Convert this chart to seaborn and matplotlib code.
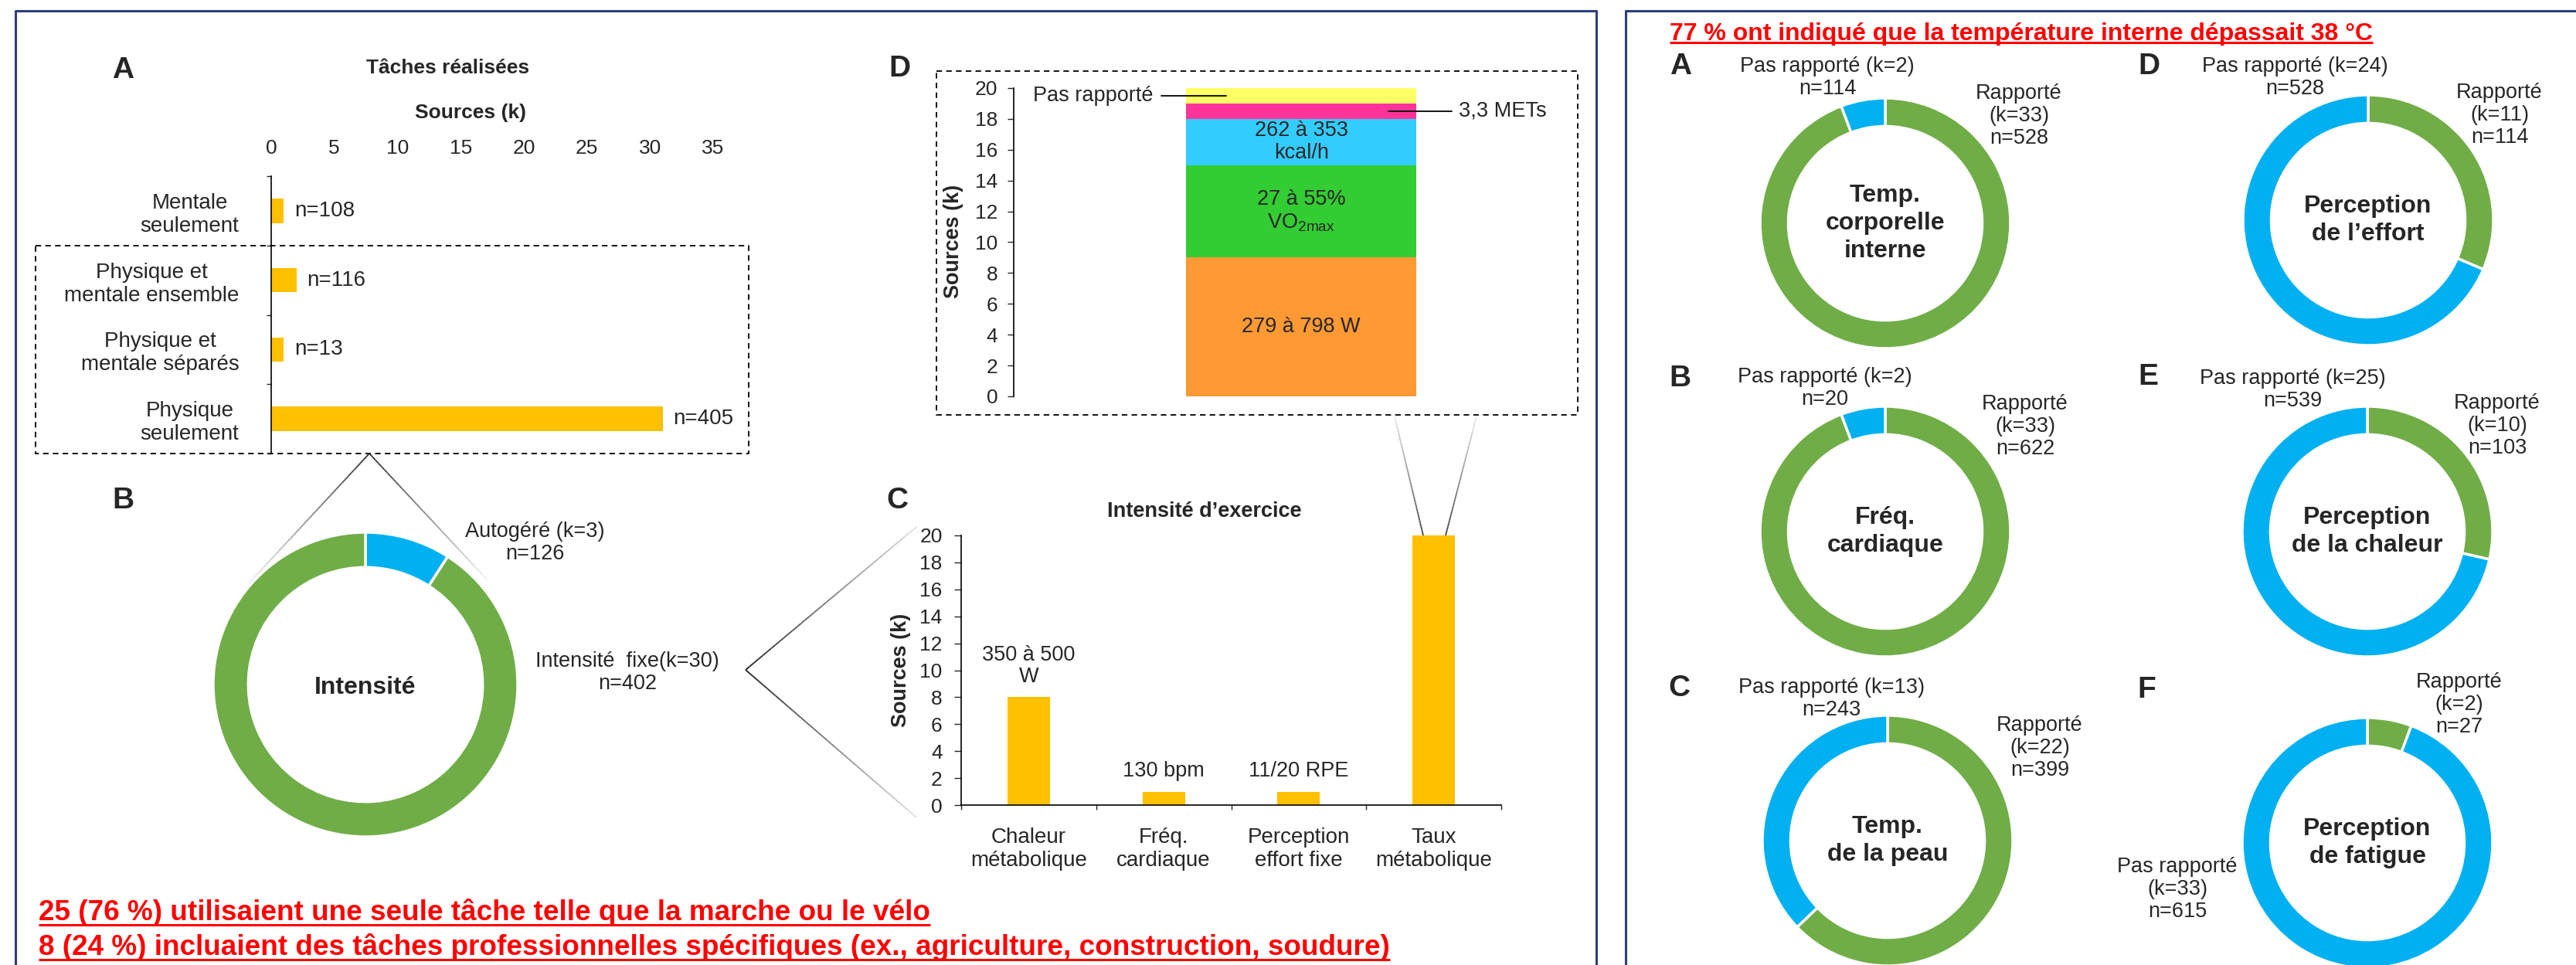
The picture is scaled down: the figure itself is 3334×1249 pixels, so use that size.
import numpy as np
import matplotlib
matplotlib.use('Agg')
import matplotlib.pyplot as plt
from matplotlib.collections import LineCollection
from matplotlib.colors import to_rgba
from matplotlib.patches import Rectangle
import seaborn as sns

# A - tâches réalisées
task_cats = ['Mentale\nseulement', 'Physique et\nmentale ensemble',
             'Physique et\nmentale séparés', 'Physique\nseulement']
task_k = [1, 2, 1, 31]
task_n = [108, 116, 13, 405]

# B - intensité (donut)
intens_names = ['Autogéré', 'Intensité  fixe']
intens_k = [3, 30]
intens_n = [126, 402]

# C - intensité d'exercice
ex_cats = ['Chaleur\nmétabolique', 'Fréq.\ncardiaque', 'Perception\neffort fixe', 'Taux\nmétabolique']
ex_k = [8, 1, 1, 20]
ex_notes = ['350 à 500\nW', '130 bpm', '11/20 RPE', '']

# D - taux métabolique, bottom to top
met_labels = ['279 à 798 W', '27 à 55%\nVO$_{\\mathregular{2max}}$', '262 à 353\nkcal/h',
              '3,3 METs', 'Pas rapporté']
met_k = [9, 6, 3, 1, 1]
met_colors = ['#FF9933', '#33CC33', '#33CCFF', '#FF3399', '#FFFF66']

# right side - measures reported
meas_letters = ['A', 'B', 'C', 'D', 'E', 'F']
meas_titles = ['Temp.\ncorporelle\ninterne', 'Fréq.\ncardiaque', 'Temp.\nde la peau',
               'Perception\nde l’effort', 'Perception\nde la chaleur', 'Perception\nde fatigue']
rep_k = [33, 33, 22, 11, 10, 2]
rep_n = [528, 622, 399, 114, 103, 27]
notrep_k = [2, 2, 13, 24, 25, 33]
notrep_n = [114, 20, 243, 528, 539, 615]

note_left = ['25 (76 %) utilisaient une seule tâche telle que la marche ou le vélo',
             '8 (24 %) incluaient des tâches professionnelles spécifiques (ex., agriculture, construction, soudure)']
note_right = '77 % ont indiqué que la température interne dépassait 38 °C'

GREEN, BLUE, YELLOW, RED = '#70AD47', '#00B0F0', '#FFC000', '#FF0000'
NAVY = '#2E3D7C'

sns.set_style('white')
plt.rcParams['font.family'] = ['Liberation Sans', 'DejaVu Sans']
plt.rcParams['mathtext.fontset'] = 'custom'
plt.rcParams['mathtext.rm'] = 'Liberation Sans'

W, H = 3334, 1249
fig = plt.figure(figsize=(W / 100, H / 100), dpi=100)


def box(l, t, r, b):
    ax = fig.add_axes([l / W, 1 - b / H, (r - l) / W, (b - t) / H])
    ax.patch.set_alpha(0)
    return ax


def fade_line(ax, p0, p1, c0='#303030', c1='#F2F2F2', n=40, lw=1.3):
    xs = np.linspace(p0[0], p1[0], n + 1)
    ys = np.linspace(p0[1], p1[1], n + 1)
    segs = [[(xs[i], ys[i]), (xs[i + 1], ys[i + 1])] for i in range(n)]
    a, b = np.array(to_rgba(c0)), np.array(to_rgba(c1))
    cols = [a + (b - a) * t for t in np.linspace(0, 1, n)]
    ax.add_collection(LineCollection(segs, colors=cols, linewidths=lw))


# background canvas in pixel coordinates
bg = fig.add_axes([0, 0, 1, 1])
bg.set_xlim(0, W)
bg.set_ylim(H, 0)
bg.axis('off')

# panel frames
bg.plot([20, 20, 2066, 2066], [H + 10, 14, 14, H + 10], color=NAVY, lw=2.2)
bg.plot([2104, 2104, W + 10], [H + 10, 14, 14], color=NAVY, lw=2.2)
bg.add_patch(Rectangle((46, 318), 969 - 46, 587 - 318, fill=False, ec='black',
                       lw=1.3, ls=(0, (4, 3))))
bg.add_patch(Rectangle((1212, 92), 2042 - 1212, 537 - 92, fill=False, ec='black',
                       lw=1.3, ls=(0, (4, 3))))

# zoom leader lines
fade_line(bg, (478, 587), (322, 755))
fade_line(bg, (478, 587), (632, 752))
fade_line(bg, (965, 867), (1186, 682), c0='#202020', c1='#E0E0E0')
fade_line(bg, (965, 867), (1186, 1058), c0='#202020', c1='#E0E0E0')
fade_line(bg, (1842, 693), (1805, 539), c0='#404040', c1='#E8E8E8')
fade_line(bg, (1871, 693), (1911, 539), c0='#404040', c1='#E8E8E8')

# panel letters and titles
for s, x, y in [('A', 159, 91), ('B', 159, 648), ('C', 1161, 648), ('D', 1164, 89)]:
    bg.text(x, y, s, ha='center', va='center', fontsize=28, fontweight='bold')
bg.text(580, 88, 'Tâches réalisées', ha='center', va='center', fontsize=19, fontweight='bold')
bg.text(609, 146, 'Sources (k)', ha='center', va='center', fontsize=19, fontweight='bold')
bg.text(1559, 662, 'Intensité d’exercice', ha='center', va='center', fontsize=19.5,
        fontweight='bold')
bg.text(1234, 312, 'Sources (k)', ha='center', va='center', rotation=90, fontsize=19.5,
        fontweight='bold')
bg.text(1166, 867, 'Sources (k)', ha='center', va='center', rotation=90, fontsize=19.5,
        fontweight='bold')

# ---- A: horizontal bars
axA = box(351, 228, 923, 587)
sns.barplot(x=task_k, y=task_cats, orient='h', color=YELLOW, saturation=1, width=0.35,
            errorbar=None, linewidth=0, ax=axA)
axA.set_xlim(0, 35)
axA.set_ylim(3.5, -0.5)
axA.xaxis.tick_top()
axA.set_xticks(range(0, 40, 5))
axA.set_yticks(range(4), labels=task_cats)
axA.set_yticks(np.arange(-0.5, 4, 1), minor=True)
axA.tick_params(axis='x', length=0, pad=17, labelsize=19)
axA.tick_params(axis='y', which='major', length=0, pad=30, labelsize=20)
axA.tick_params(axis='y', which='minor', length=4.5, width=1, direction='out', left=True)
for lbl in axA.get_yticklabels():
    lbl.set_multialignment('center')
axA.set_xlabel('')
axA.set_ylabel('')
for side in ['top', 'right', 'bottom']:
    axA.spines[side].set_visible(False)
axA.spines['left'].set_color('black')
axA.spines['left'].set_linewidth(1.2)
axA.bar_label(axA.containers[0], labels=[f'n={v}' for v in task_n], padding=10, fontsize=20)

# ---- B: intensity donut
axB = box(276, 689, 670, 1083)
axB.pie(intens_k, colors=[BLUE, GREEN], startangle=90, counterclock=False,
        wedgeprops=dict(width=0.23, edgecolor='white', linewidth=2.5))
axB.set_xlim(-1, 1)
axB.set_ylim(-1, 1)
axB.text(0, -0.02, 'Intensité', ha='center', va='center', fontsize=23, fontweight='bold')
bg.text(692, 702, f'{intens_names[0]} (k={intens_k[0]})\nn={intens_n[0]}',
        ha='center', va='center', fontsize=19.5, linespacing=1.15)
bg.text(812, 870, f'{intens_names[1]}(k={intens_k[1]})\nn={intens_n[1]}',
        ha='center', va='center', fontsize=19.5, linespacing=1.15)

# ---- C: exercise intensity bars
axC = box(1244, 693, 1943, 1042)
sns.barplot(x=ex_cats, y=ex_k, color=YELLOW, saturation=1, width=0.315,
            errorbar=None, linewidth=0, ax=axC)
axC.set_xlim(-0.5, 3.5)
axC.set_ylim(0, 20)
axC.set_yticks(range(0, 21, 2))
axC.set_xticks(np.arange(-0.5, 4, 1), minor=True)
axC.tick_params(axis='x', which='major', length=0, pad=21, labelsize=20)
axC.tick_params(axis='x', which='minor', length=4.5, width=1, direction='out', bottom=True)
axC.tick_params(axis='y', length=6.5, width=1, direction='out', left=True, pad=11, labelsize=19)
for lbl in axC.get_xticklabels():
    lbl.set_multialignment('center')
axC.set_xlabel('')
axC.set_ylabel('')
for side in ['top', 'right']:
    axC.spines[side].set_visible(False)
for side in ['left', 'bottom']:
    axC.spines[side].set_color('black')
    axC.spines[side].set_linewidth(1.2)
axC.bar_label(axC.containers[0], labels=ex_notes, padding=10, fontsize=19.5, linespacing=1.1)

# ---- D: stacked metabolic rate bar (cumulative layers, tallest first)
axD = box(1312, 114, 2042, 513)
cum = np.cumsum(met_k)
for c, v in reversed(list(zip(met_colors, cum))):
    sns.barplot(x=['Taux'], y=[v], color=c, saturation=1, width=0.8, errorbar=None,
                linewidth=0, ax=axD)
axD.set_xlim(-1.0, 0.961)
axD.set_ylim(0, 20)
axD.set_yticks(range(0, 21, 2))
axD.tick_params(axis='y', length=6, width=1, direction='out', left=True, pad=9, labelsize=19)
axD.xaxis.set_visible(False)
axD.set_ylabel('')
for side in ['top', 'right', 'bottom']:
    axD.spines[side].set_visible(False)
axD.spines['left'].set_color('black')
axD.spines['left'].set_linewidth(1.2)
mids = cum - np.array(met_k) / 2
for lbl, m in zip(met_labels[:3], mids[:3]):
    axD.text(0, m, lbl, ha='center', va='center', fontsize=19.5, linespacing=1.15)
axD.plot([0.303, 0.523], [mids[3], mids[3]], color='black', lw=1.3)
axD.text(0.548, mids[3], met_labels[3], ha='left', va='center', fontsize=19.5)
axD.plot([-0.486, -0.26], [mids[4], mids[4]], color='black', lw=1.3)
axD.text(-0.515, mids[4], met_labels[4], ha='right', va='center', fontsize=19.5)

# ---- right side: six donuts
centers = [(2440, 289), (2440, 688), (2443, 1088), (3065, 285), (3064, 688), (3064, 1091)]
letter_pos = [(2175, 86), (2174, 490), (2173, 891), (2781, 86), (2780, 488), (2778, 893)]
notrep_pos = [(2365, 100), (2362, 502), (2370, 904), (2970, 100), (2967, 504), (2818, 1151)]
rep_pos = [(2613, 150), (2621, 552), (2640, 968), (3235, 149), (3232, 551), (3183, 912)]
R = 162
for i in range(6):
    cx, cy = centers[i]
    ax = box(cx - R, cy - R, cx + R, cy + R)
    ax.pie([rep_k[i], notrep_k[i]], colors=[GREEN, BLUE], startangle=90, counterclock=False,
           wedgeprops=dict(width=0.225, edgecolor='white', linewidth=2.5))
    ax.set_xlim(-1, 1)
    ax.set_ylim(-1, 1)
    ax.text(0, 0, meas_titles[i], ha='center', va='center', fontsize=23, fontweight='bold',
            linespacing=1.25)
    bg.text(*letter_pos[i], meas_letters[i], ha='center', va='center', fontsize=28,
            fontweight='bold')
    if i == 5:
        nr = f'Pas rapporté\n(k={notrep_k[i]})\nn={notrep_n[i]}'
    else:
        nr = f'Pas rapporté (k={notrep_k[i]})\nn={notrep_n[i]}'
    bg.text(*notrep_pos[i], nr, ha='center', va='center', fontsize=19.5, linespacing=1.15)
    bg.text(*rep_pos[i], f'Rapporté\n(k={rep_k[i]})\nn={rep_n[i]}', ha='center', va='center',
            fontsize=19.5, linespacing=1.15)

# ---- red underlined notes
notes = [(note_left[0], 50, 1191, 1197, 26.6), (note_left[1], 50, 1236, 1242, 26.6),
         (note_right, 2161, 52, 55, 23)]
texts = []
for s, x, y, uy, fs in notes:
    texts.append((bg.text(x, y, s, ha='left', va='baseline', fontsize=fs, fontweight='bold',
                          color=RED), uy))
fig.canvas.draw()
inv = bg.transData.inverted()
for t, uy in texts:
    bb = t.get_window_extent()
    x0 = inv.transform((bb.x0, bb.y0))[0]
    x1 = inv.transform((bb.x1, bb.y0))[0]
    bg.plot([x0, x1], [uy, uy], color=RED, lw=2.2, solid_capstyle='butt')

fig.savefig('out.png', dpi=100)
